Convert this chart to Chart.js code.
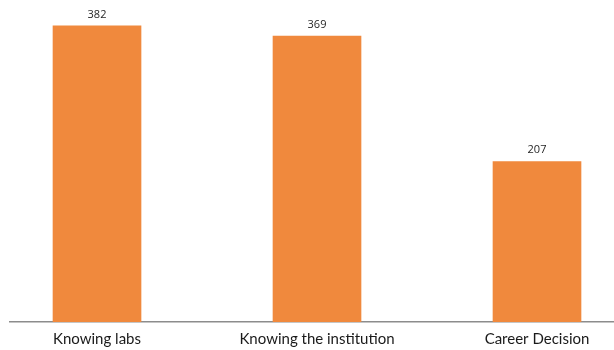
<!DOCTYPE html>
<html>
<head>
<meta charset="utf-8">
<script src="https://cdn.jsdelivr.net/npm/chart.js@4"></script>
<style>
  html, body { margin: 0; padding: 0; background: #fff; }
  #wrap { width: 614px; height: 350px; position: relative; }
</style>
</head>
<body>
<div id="wrap"><canvas id="chart"></canvas></div>
<script>
// Reasons given, with number of responses
const categories = ["Knowing labs", "Knowing the institution", "Career Decision"];
const responses = [382, 369, 207];

const barColor = "#F0893D";

// Writes each bar's value just above its top
const valueLabels = {
  id: "valueLabels",
  afterDatasetsDraw(chart) {
    const ctx = chart.ctx;
    const meta = chart.getDatasetMeta(0);
    ctx.save();
    ctx.font = "11px 'Open Sans', sans-serif";
    ctx.fillStyle = "#262626";
    ctx.textAlign = "center";
    ctx.textBaseline = "bottom";
    meta.data.forEach((bar, i) => {
      ctx.fillText(String(responses[i]), bar.x, bar.y - 6);
    });
    ctx.restore();
  }
};

new Chart(document.getElementById("chart"), {
  type: "bar",
  data: {
    datasets: [{
      data: responses.map((v, i) => ({ x: i, y: v })),
      backgroundColor: barColor,
      borderWidth: 0,
      barThickness: 88
    }]
  },
  options: {
    responsive: true,
    maintainAspectRatio: false,
    animation: false,
    layout: { padding: { left: 10, right: 0, top: 12, bottom: 0 } },
    plugins: { legend: { display: false }, tooltip: { enabled: false } },
    scales: {
      x: {
        type: "linear",
        offset: false,
        min: -0.3955,
        max: 2.35,
        afterBuildTicks(scale) {
          scale.ticks = categories.map((c, i) => ({ value: i }));
        },
        afterFit(scale) { scale.height = 28; },
        grid: { display: false, drawTicks: false },
        border: { display: true, color: "#8c8c8c", width: 1.5 },
        ticks: {
          padding: 8,
          color: "#1a1a1a",
          font: { family: "Lato", size: 15 },
          maxRotation: 0,
          callback: (v) => categories[v]
        }
      },
      y: {
        display: false,
        min: 0,
        max: 400
      }
    }
  },
  plugins: [valueLabels]
});
</script>
</body>
</html>
